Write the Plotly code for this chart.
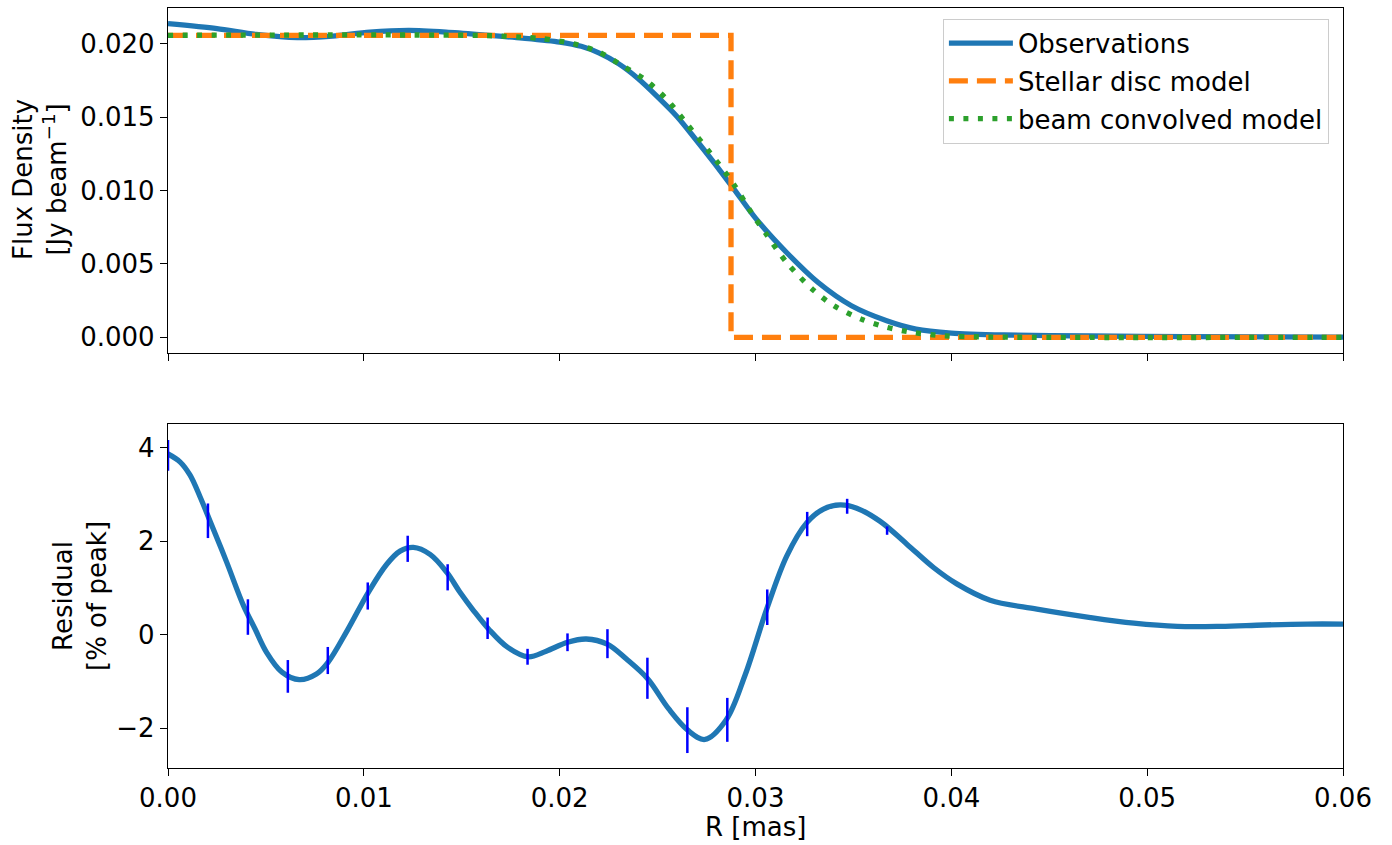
import plotly.graph_objects as go

# ---------------- data ----------------
obs_r = [0.0, 0.0025, 0.0045, 0.0066, 0.0084, 0.0103, 0.0123, 0.0142, 0.0162, 0.0181,
         0.0200, 0.0211, 0.0220, 0.0230, 0.0240, 0.0250, 0.0260, 0.0269, 0.0279, 0.0289,
         0.0300, 0.0316, 0.0332, 0.0349, 0.0367, 0.0382, 0.0400, 0.0427, 0.0471, 0.0520, 0.0600]
obs_f = [0.02136, 0.02102, 0.02063, 0.02041, 0.02052, 0.02079, 0.02090, 0.02079, 0.02059, 0.02038,
         0.02011, 0.01982, 0.01937, 0.01864, 0.01763, 0.01638, 0.01503, 0.01356, 0.01186, 0.01010,
         0.00812, 0.00576, 0.00373, 0.00215, 0.00113, 0.00056, 0.00029, 0.00016, 0.00009, 0.00005, 0.00002]

disc_r = [0.0, 0.02875, 0.02875, 0.0600]
disc_f = [0.02057, 0.02057, 0.0, 0.0]

conv_r = [0.0, 0.0160, 0.0180, 0.0191, 0.0207, 0.0220, 0.0232, 0.0244, 0.0255, 0.0264,
          0.0277, 0.0289, 0.0298, 0.0305, 0.0316, 0.0329, 0.0340, 0.0354, 0.0367, 0.0380,
          0.0396, 0.0420, 0.0600]
conv_f = [0.02057, 0.02056, 0.02045, 0.02034, 0.02000, 0.01943, 0.01850, 0.01751, 0.01616, 0.01469,
          0.01254, 0.01040, 0.00847, 0.00712, 0.00508, 0.00328, 0.00215, 0.00124, 0.00068, 0.00034,
          0.00011, 0.00002, 0.0]

res_r = [0.0, 0.00061, 0.00112, 0.00163, 0.00215, 0.0030, 0.00385, 0.00444, 0.00504, 0.00582,
         0.0067, 0.00758, 0.00817, 0.00915, 0.01023, 0.01117, 0.01185, 0.01253, 0.01338, 0.01423,
         0.01491, 0.0156, 0.01638, 0.01735, 0.01839, 0.01931, 0.0204, 0.02136, 0.02243, 0.02341,
         0.02449, 0.02556, 0.02654, 0.02742, 0.02849, 0.02947, 0.03058, 0.0316, 0.03262, 0.03347,
         0.03432, 0.03517, 0.03636, 0.03773, 0.03909, 0.04028, 0.04198, 0.04437, 0.04711, 0.04932,
         0.05154, 0.05375, 0.05597, 0.05818, 0.0600]
res_v = [3.87, 3.70, 3.42, 2.96, 2.43, 1.55, 0.63, 0.13, -0.38, -0.80,
         -0.96, -0.84, -0.59, 0.09, 0.91, 1.51, 1.79, 1.87, 1.72, 1.34,
         0.91, 0.52, 0.12, -0.27, -0.47, -0.35, -0.16, -0.09, -0.20, -0.52,
         -0.94, -1.58, -2.04, -2.24, -1.83, -0.86, 0.56, 1.69, 2.40, 2.69,
         2.78, 2.71, 2.43, 1.94, 1.44, 1.09, 0.74, 0.55, 0.37, 0.25,
         0.18, 0.18, 0.21, 0.23, 0.23]

err_r = [0.0, 0.00204, 0.00408, 0.00612, 0.00816, 0.0102, 0.01224, 0.01428, 0.01632, 0.01836,
         0.0204, 0.02244, 0.02448, 0.02652, 0.02856, 0.0306, 0.03264, 0.03468, 0.03672]
err_v = [3.84, 2.44, 0.38, -0.89, -0.55, 0.83, 1.84, 1.23, 0.14, -0.47,
         -0.16, -0.19, -0.93, -2.04, -1.82, 0.59, 2.37, 2.75, 2.23]
err_e = [0.33, 0.37, 0.38, 0.35, 0.29, 0.29, 0.28, 0.28, 0.23, 0.17,
         0.19, 0.31, 0.44, 0.49, 0.47, 0.38, 0.26, 0.16, 0.09]

x_ticks = [0.0, 0.01, 0.02, 0.03, 0.04, 0.05, 0.06]
x_ticklabels = ["0.00", "0.01", "0.02", "0.03", "0.04", "0.05", "0.06"]
top_ticks = [0.0, 0.005, 0.010, 0.015, 0.020]
top_ticklabels = ["0.000", "0.005", "0.010", "0.015", "0.020"]
bot_ticks = [-2, 0, 2, 4]

# ---------------- figure ----------------
FONT = "DejaVu Sans"
FS = 26
LW = 5.3

fig = go.Figure()

fig.add_trace(go.Scatter(x=obs_r, y=obs_f, mode="lines", name="Observations",
                         line=dict(color="#1f77b4", width=LW, shape="spline", smoothing=0.8),
                         xaxis="x", yaxis="y", legendgroup="a"))
fig.add_trace(go.Scatter(x=disc_r, y=disc_f, mode="lines", name="Stellar disc model",
                         line=dict(color="#ff7f0e", width=LW, dash="19px,9px"),
                         xaxis="x", yaxis="y", legendgroup="b"))
fig.add_trace(go.Scatter(x=conv_r, y=conv_f, mode="lines", name="beam convolved model",
                         line=dict(color="#2ca02c", width=LW, dash="5px,9.5px", shape="spline", smoothing=0.8),
                         xaxis="x", yaxis="y", legendgroup="c"))

fig.add_trace(go.Scatter(x=res_r, y=res_v, mode="lines", showlegend=False,
                         line=dict(color="#1f77b4", width=LW, shape="spline", smoothing=1.0),
                         xaxis="x2", yaxis="y2"))
fig.add_trace(go.Scatter(x=err_r, y=err_v, mode="markers", showlegend=False,
                         marker=dict(size=1, color="rgba(0,0,0,0)"),
                         error_y=dict(type="data", array=err_e, visible=True,
                                      color="#0000ff", thickness=2.5, width=0),
                         xaxis="x2", yaxis="y2"))

axis_common = dict(showline=True, linecolor="black", linewidth=1.3, mirror=True,
                   ticks="outside", ticklen=7, tickwidth=1.3, tickcolor="black",
                   showgrid=False, zeroline=False,
                   tickfont=dict(family=FONT, size=FS, color="black"))

fig.update_layout(
    width=1392, height=845,
    margin=dict(l=168, r=49, t=8, b=77),
    paper_bgcolor="white", plot_bgcolor="white",
    font=dict(family=FONT, size=FS, color="black"),
    xaxis=dict(domain=[0, 1], anchor="y", range=[0, 0.06], tickvals=x_ticks,
               showticklabels=False, matches="x2", **axis_common),
    yaxis=dict(domain=[0.546, 1.0], anchor="x", range=[-0.00107, 0.02243],
               tickvals=top_ticks, ticktext=top_ticklabels, **axis_common),
    xaxis2=dict(domain=[0, 1], anchor="y2", range=[0, 0.06], tickvals=x_ticks,
                ticktext=x_ticklabels, **axis_common),
    yaxis2=dict(domain=[0.0, 0.4526], anchor="x2", range=[-2.85, 4.51],
                tickvals=bot_ticks, **axis_common),
    legend=dict(x=0.988, y=0.986, xanchor="right", yanchor="top",
                bgcolor="rgba(255,255,255,0.8)", bordercolor="#cccccc", borderwidth=1,
                font=dict(family=FONT, size=FS, color="black"),
                tracegroupgap=1, traceorder="grouped", itemwidth=64),
    showlegend=True,
)

fig.add_annotation(text="Flux Density<br>[Jy beam<sup>−1</sup>]", xref="paper", yref="paper",
                   x=-0.1089, y=0.7737, xanchor="center", yanchor="middle", textangle=-90,
                   showarrow=False, font=dict(family=FONT, size=FS, color="black"))
fig.add_annotation(text="Residual<br>[% of peak]", xref="paper", yref="paper",
                   x=-0.0749, y=0.2263, xanchor="center", yanchor="middle", textangle=-90,
                   showarrow=False, font=dict(family=FONT, size=FS, color="black"))
fig.add_annotation(text="R [mas]", xref="paper", yref="paper",
                   x=0.5, y=-0.0776, xanchor="center", yanchor="middle",
                   showarrow=False, font=dict(family=FONT, size=FS, color="black"))

fig.write_html("out.html", config={"displayModeBar": False},
               post_script="document.body.style.margin='0px';document.body.style.overflow='hidden';")
